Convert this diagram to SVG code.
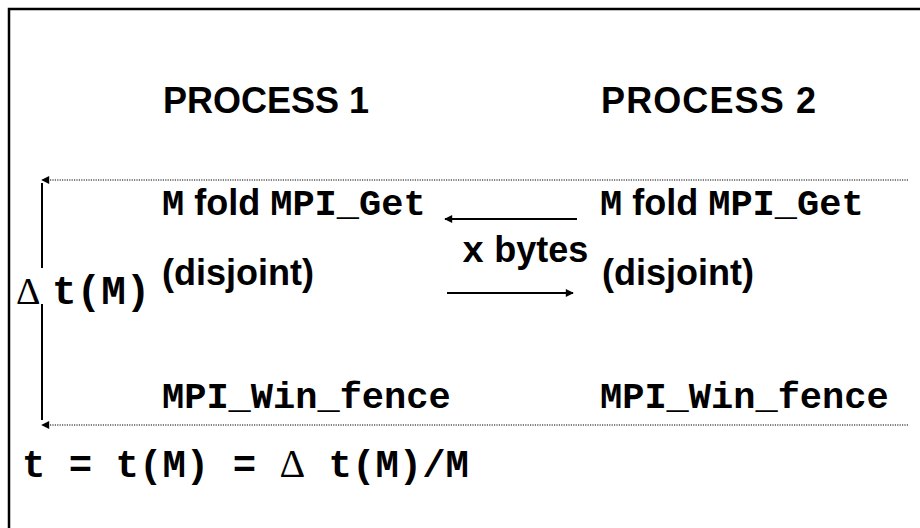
<svg xmlns="http://www.w3.org/2000/svg" width="920" height="528" viewBox="0 0 920 528">
  <style>
    .sans { font-family: "Liberation Sans", Arial, sans-serif; font-weight: bold; font-size: 36px; fill: #000; }
    .mono { font-family: "Liberation Mono", "Courier New", monospace; font-weight: bold; font-size: 37px; fill: #000; }
    .sym { font-family: "Liberation Serif", "Times New Roman", serif; font-weight: normal; font-size: 38px; fill: #000; }
    .dot { stroke: #000; stroke-width: 1.2; stroke-dasharray: 1.2 1.2; fill: none; }
    .solid { stroke: #000; stroke-width: 2; fill: none; }
  </style>
  <defs>
    <marker id="head" viewBox="0 0 10 10" refX="9" refY="5" markerWidth="10" markerHeight="8" markerUnits="userSpaceOnUse" orient="auto">
      <path d="M0,0 L10,5 L0,10 z" fill="#000"/>
    </marker>
  </defs>
  <rect width="920" height="528" fill="#fff"/>
  <!-- outer frame: only the top and left edges fall inside the canvas -->
  <path d="M9,528 V9 H920" stroke="#000" stroke-width="2.5" fill="none"/>

  <g id="process1">
    <text class="sans" x="163" y="113">PROCESS 1</text>
    <text x="162" y="215"><tspan class="mono">M</tspan><tspan class="sans"> fold </tspan><tspan class="mono">MPI_Get</tspan></text>
    <text class="sans" x="162" y="285">(disjoint)</text>
    <text class="mono" x="162" y="408">MPI_Win_fence</text>
  </g>

  <g id="process2">
    <text class="sans" x="601" y="113" textLength="215">PROCESS 2</text>
    <text x="600" y="215"><tspan class="mono">M</tspan><tspan class="sans"> fold </tspan><tspan class="mono">MPI_Get</tspan></text>
    <text class="sans" x="602" y="285">(disjoint)</text>
    <text class="mono" x="600" y="408">MPI_Win_fence</text>
  </g>

  <g id="transfer">
    <text x="462" y="262"><tspan class="mono">x</tspan><tspan class="sans"> bytes</tspan></text>
  </g>

  <g id="timing">
    <text class="sym" x="16" y="304">Δ</text>
    <text class="mono" x="52" y="304" style="font-size:41px">t(M)</text>
    <text class="mono" x="22" y="477" style="font-size:39px">t = t(M) = <tspan class="sym" style="font-size:40px">Δ</tspan> t(M)/M</text>
  </g>

  <g id="connectors">
    <line class="dot" x1="908" y1="180" x2="42" y2="180" marker-end="url(#head)"/>
    <line class="dot" x1="908" y1="425" x2="42" y2="425" marker-end="url(#head)"/>
    <line class="solid" x1="42" y1="183" x2="42" y2="268"/>
    <line class="solid" x1="42" y1="304" x2="42" y2="420"/>
    <line class="solid" x1="577" y1="219" x2="445" y2="219" marker-end="url(#head)"/>
    <line class="solid" x1="447" y1="293" x2="573" y2="293" marker-end="url(#head)"/>
  </g>
</svg>
